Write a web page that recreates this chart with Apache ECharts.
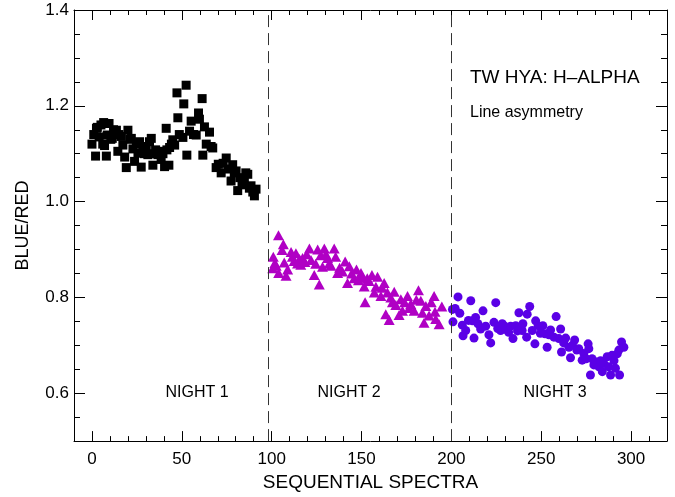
<!DOCTYPE html>
<html>
<head>
<meta charset="utf-8">
<script src="https://cdn.jsdelivr.net/npm/echarts@6/dist/echarts.min.js"></script>
<style>html,body{margin:0;padding:0;background:#fff}#c{width:675px;height:497px}</style>
</head>
<body>
<div id="c"></div>
<script>
// ---- data ----
const night1 = [[0,1.12],[1,1.14],[2,1.095],[2.5,1.153],[3,1.155],[4,1.135],[5,1.16],[6,1.12],[6.5,1.165],[7,1.117],[8,1.095],[8.5,1.139],[9.5,1.163],[10.5,1.13],[11.3,1.132],[12,1.15],[13.6,1.149],[14.4,1.105],[15,1.14],[16.3,1.136],[17.2,1.118],[18.2,1.093],[19.1,1.071],[20,1.149],[21,1.13],[21.9,1.132],[22.8,1.11],[23.7,1.084],[24.7,1.12],[25.6,1.101],[26.5,1.125],[27.4,1.072],[28.3,1.115],[29.2,1.10],[30.2,1.112],[31.1,1.098],[32,1.125],[33,1.132],[33.9,1.076],[34.6,1.10],[35.4,1.108],[36.7,1.098],[37.5,1.105],[38.5,1.088],[39.5,1.10],[40.4,1.073],[41.3,1.153],[41.7,1.108],[42.8,1.076],[43.2,1.113],[44.2,1.12],[45,1.129],[46,1.118],[47.3,1.227],[47.8,1.175],[48.6,1.14],[50.6,1.134],[51.1,1.204],[52.4,1.243],[52.8,1.097],[54.3,1.147],[55.2,1.168],[56.5,1.14],[58,1.139],[59.3,1.185],[59.8,1.172],[61.3,1.215],[61.7,1.097],[62.6,1.156],[63.6,1.12],[65.4,1.145],[66.3,1.115],[67.2,1.112],[69.1,1.071],[70.3,1.078],[71.9,1.06],[73,1.08],[74.7,1.091],[75.8,1.068],[77.4,1.043],[78.3,1.077],[79.2,1.06],[80.2,1.064],[81.1,1.023],[82.3,1.05],[83.5,1.035],[84.8,1.045],[85.6,1.06],[86.7,1.057],[87.6,1.028],[88.5,1.033],[89.5,1.02],[90.4,1.012],[91.3,1.026]];
const night2 = [[100.6,0.861],[100.9,0.885],[101.8,0.872],[102.5,0.866],[103.8,0.930],[103.9,0.851],[105.8,0.899],[106.5,0.911],[107,0.873],[108,0.845],[108.9,0.858],[110.8,0.895],[111.5,0.885],[112.5,0.876],[113.5,0.892],[114.4,0.871],[115.5,0.880],[116.2,0.868],[117.2,0.882],[118.5,0.874],[119.5,0.890],[121,0.902],[121.9,0.878],[123.7,0.847],[124.5,0.870],[125.6,0.900],[126.5,0.827],[127.3,0.888],[128.3,0.864],[129.3,0.902],[130.2,0.890],[131.1,0.882],[132,0.870],[133,0.866],[134.8,0.902],[135.6,0.885],[136.7,0.851],[137.8,0.862],[139.4,0.854],[140.9,0.875],[142.2,0.830],[143.2,0.865],[144.5,0.850],[145.9,0.840],[147.2,0.858],[148.3,0.836],[149.7,0.851],[150.5,0.842],[151.5,0.823],[152,0.790],[153.2,0.840],[154.2,0.834],[155.8,0.847],[157.1,0.810],[158,0.822],[158.9,0.843],[160.8,0.803],[161.5,0.820],[162.6,0.830],[163.5,0.765],[164.4,0.810],[165.4,0.753],[166.3,0.800],[167.2,0.790],[168.2,0.812],[169.1,0.784],[170.9,0.763],[171.9,0.796],[172.8,0.772],[174,0.790],[175.6,0.803],[176.5,0.778],[177.4,0.786],[179.3,0.772],[180.5,0.795],[181.7,0.815],[183,0.793],[183.9,0.768],[184.8,0.747],[185.8,0.782],[187.6,0.762],[188.8,0.790],[190.4,0.803],[190.9,0.770],[191.3,0.755],[193.2,0.744],[194.7,0.781]];
const night3 = [[200.6,0.775],[200.9,0.749],[202.1,0.777],[203.7,0.801],[204.7,0.767],[206.1,0.742],[206.5,0.720],[208,0.731],[209.5,0.752],[210.8,0.793],[211.7,0.751],[212.6,0.715],[213.5,0.758],[214.8,0.745],[216.3,0.734],[217.6,0.772],[219.1,0.740],[220.9,0.722],[221.9,0.705],[223.7,0.748],[224.7,0.789],[225.8,0.735],[227.4,0.731],[228.3,0.745],[229.3,0.741],[230.5,0.733],[231.9,0.727],[233,0.740],[234.3,0.714],[235.8,0.741],[236.8,0.730],[237.6,0.768],[239.4,0.731],[239.8,0.745],[241.9,0.717],[242.2,0.765],[243.6,0.781],[245,0.731],[246.5,0.703],[246.9,0.751],[248.3,0.741],[249.5,0.725],[250.9,0.741],[252.1,0.724],[253.3,0.696],[254.3,0.722],[255.2,0.732],[257.1,0.717],[258.3,0.760],[259.8,0.714],[260.8,0.734],[261.3,0.686],[262.5,0.705],[263.6,0.715],[265.4,0.696],[266.3,0.674],[267.4,0.700],[268.6,0.711],[269.8,0.690],[270.9,0.693],[272.8,0.669],[273.7,0.683],[275,0.672],[276.1,0.703],[276.5,0.693],[277.4,0.638],[278.3,0.672],[279.3,0.659],[280.5,0.665],[282.1,0.655],[283,0.668],[284,0.645],[284.8,0.662],[286.7,0.676],[287.5,0.655],[288.6,0.638],[289.4,0.679],[290.5,0.668],[291.3,0.652],[292.3,0.682],[293.2,0.690],[293.6,0.638],[294.7,0.707],[296,0.696]];
const nightDividers = [98, 200];
const xMajorTicks = [0, 50, 100, 150, 200, 250, 300];
const yMajorTicks = [0.6, 0.8, 1.0, 1.2, 1.4];
const xRange = [-10, 320];
const yRange = [0.5, 1.4];
const xMinorStep = 10;
const yMinorStep = 0.05;

// ---- helpers ----
function minorTicks(range, step, majors) {
  const out = [];
  const n = Math.round((range[1] - range[0]) / step);
  for (let i = 1; i < n; i++) {
    const v = +(range[0] + i * step).toFixed(4);
    if (!majors.some(m => Math.abs(m - v) < 1e-6)) out.push(v);
  }
  return out;
}
const xMinorTicks = minorTicks(xRange, xMinorStep, xMajorTicks);
const yMinorTicks = minorTicks(yRange, yMinorStep, yMajorTicks);

const FONT = '"Liberation Sans", Arial, Helvetica, sans-serif';
const BLACK = '#000';

function xAxisDef(position, ticks, len, showLine, showLabels) {
  return {
    type: 'value', position: position, min: xRange[0], max: xRange[1],
    axisLine: { show: showLine, onZero: false, lineStyle: { color: BLACK, width: 1 } },
    axisTick: { show: true, inside: true, length: len, customValues: ticks, lineStyle: { color: BLACK, width: 1 } },
    axisLabel: showLabels ? { show: true, customValues: ticks, fontSize: 17, color: BLACK, fontFamily: FONT, margin: 10 } : { show: false },
    splitLine: { show: false }
  };
}
function yAxisDef(position, ticks, len, showLine, showLabels) {
  return {
    type: 'value', position: position, min: yRange[0], max: yRange[1],
    axisLine: { show: showLine, onZero: false, lineStyle: { color: BLACK, width: 1 } },
    axisTick: { show: true, inside: true, length: len, customValues: ticks, lineStyle: { color: BLACK, width: 1 } },
    axisLabel: showLabels ? { show: true, customValues: ticks, fontSize: 17, color: BLACK, fontFamily: FONT, margin: 5, formatter: v => v.toFixed(1) } : { show: false },
    splitLine: { show: false }
  };
}

const xAxes = [
  Object.assign(xAxisDef('bottom', xMajorTicks, 10, true, true), {
    name: 'SEQUENTIAL SPECTRA', nameLocation: 'middle', nameGap: 29,
    nameTextStyle: { fontSize: 19, color: BLACK, fontFamily: FONT }
  }),
  xAxisDef('bottom', xMinorTicks, 5, false, false),
  xAxisDef('top', xMajorTicks, 10, true, false),
  xAxisDef('top', xMinorTicks, 5, false, false)
];
const yAxes = [
  Object.assign(yAxisDef('left', yMajorTicks, 11, true, true), {
    name: 'BLUE/RED', nameLocation: 'middle', nameGap: 42,
    nameTextStyle: { fontSize: 18, color: BLACK, fontFamily: FONT }
  }),
  yAxisDef('left', yMinorTicks, 6, false, false),
  yAxisDef('right', yMajorTicks, 11, true, false),
  yAxisDef('right', yMinorTicks, 6, false, false)
];

const chart = echarts.init(document.getElementById('c'), null, { renderer: 'canvas' });
chart.setOption({
  animation: false,
  backgroundColor: '#fff',
  grid: { left: 74, right: 8, top: 10, bottom: 50, containLabel: false },
  xAxis: xAxes,
  yAxis: yAxes,
  graphic: [
    { type: 'text', left: 470, top: 68, style: { text: 'TW HYA: H\u2013ALPHA', fontSize: 19, fill: BLACK, fontFamily: FONT } },
    { type: 'text', left: 470, top: 105, style: { text: 'Line asymmetry', fontSize: 16, fill: BLACK, fontFamily: FONT } },
    { type: 'text', x: 197, y: 393, style: { text: 'NIGHT 1', fontSize: 16, fill: BLACK, fontFamily: FONT, align: 'center', verticalAlign: 'middle' } },
    { type: 'text', x: 349, y: 393, style: { text: 'NIGHT 2', fontSize: 16, fill: BLACK, fontFamily: FONT, align: 'center', verticalAlign: 'middle' } },
    { type: 'text', x: 555, y: 393, style: { text: 'NIGHT 3', fontSize: 16, fill: BLACK, fontFamily: FONT, align: 'center', verticalAlign: 'middle' } }
  ],
  series: [
    {
      type: 'scatter', name: 'Night 1', data: night1, xAxisIndex: 0, yAxisIndex: 0,
      symbol: 'rect', symbolSize: 9, itemStyle: { color: '#000', opacity: 1 },
      markLine: {
        silent: true, symbol: ['none', 'none'], label: { show: false },
        lineStyle: { type: [12, 6], color: '#333', width: 1 },
        data: nightDividers.map(v => ({ xAxis: v }))
      }
    },
    {
      type: 'scatter', name: 'Night 2', data: night2, xAxisIndex: 0, yAxisIndex: 0,
      symbol: 'triangle', symbolSize: [11, 10], itemStyle: { color: '#B000C4', opacity: 1 }
    },
    {
      type: 'scatter', name: 'Night 3', data: night3, xAxisIndex: 0, yAxisIndex: 0,
      symbol: 'circle', symbolSize: 9, itemStyle: { color: '#5A00E6', opacity: 1 }
    }
  ]
});
</script>
</body>
</html>
